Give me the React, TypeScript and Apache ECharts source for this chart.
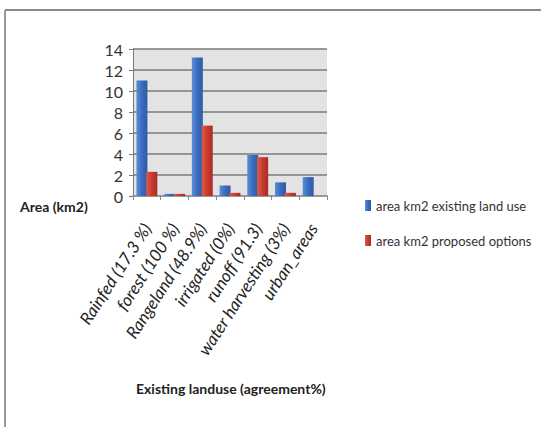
import React, { useEffect, useRef } from "react";
import * as echarts from "echarts";

const categories = [
  "Rainfed (17.3 %)",
  "forest (100 %)",
  "Rangeland (48.9%)",
  "irrigated (0%)",
  "runoff (91.3)",
  "water harvesting (3%)",
  "urban_areas",
];
const existingLandUse = [11.0, 0.2, 13.2, 1.0, 3.9, 1.3, 1.8];
const proposedOptions = [2.3, 0.2, 6.7, 0.3, 3.7, 0.3, 0];
const seriesNames = ["area km2 existing land use", "area km2 proposed options"];
const yTicks = { min: 0, max: 14, interval: 2 };

const FONT = "Lato, 'Liberation Sans', sans-serif";

export default function App() {
  const ref = useRef<HTMLDivElement>(null);
  useEffect(() => {
    if (!ref.current) return;
    const chart = echarts.init(ref.current, null, { renderer: "svg" });
    const blue = new echarts.graphic.LinearGradient(0, 0, 1, 0, [
      { offset: 0, color: "#5b8fd6" },
      { offset: 0.5, color: "#3a6cbf" },
      { offset: 1, color: "#2d5aa3" },
    ]);
    const red = new echarts.graphic.LinearGradient(0, 0, 1, 0, [
      { offset: 0, color: "#e05a4c" },
      { offset: 0.5, color: "#c93a2e" },
      { offset: 1, color: "#a82d24" },
    ]);
    chart.setOption({
      animation: false,
      textStyle: { fontFamily: FONT },
      grid: {
        left: 133,
        right: 214,
        top: 49,
        bottom: 231,
        show: true,
        backgroundColor: "#e3e3e3",
        borderWidth: 0,
      },
      legend: {
        orient: "vertical",
        left: 360,
        top: 194,
        itemGap: 22,
        itemWidth: 6,
        itemHeight: 11,
        icon: "rect",
        textStyle: { fontFamily: FONT, fontSize: 13, color: "#333" },
        data: seriesNames,
      },
      xAxis: {
        type: "category",
        data: categories,
        axisLine: { show: true, lineStyle: { color: "#999", width: 2 } },
        axisTick: { show: true, lineStyle: { color: "#888" }, length: 4 },
        axisLabel: {
          rotate: 57,
          interval: 0,
          fontStyle: "italic",
          fontSize: 17,
          color: "#222",
          fontFamily: FONT,
          margin: 29,
        },
      },
      yAxis: {
        type: "value",
        min: yTicks.min,
        max: yTicks.max,
        interval: yTicks.interval,
        axisLine: { show: true, lineStyle: { color: "#777", width: 1 } },
        axisTick: { show: true, lineStyle: { color: "#777" }, length: 4 },
        axisLabel: { fontSize: 16, color: "#333", fontFamily: FONT, margin: 10 },
        splitLine: { show: true, lineStyle: { color: "#7a7a7a", width: 1.5 } },
      },
      series: [
        {
          name: seriesNames[0],
          type: "bar",
          data: existingLandUse,
          barWidth: 11,
          barGap: "-10%",
          itemStyle: { color: blue },
        },
        {
          name: seriesNames[1],
          type: "bar",
          data: proposedOptions,
          barWidth: 11,
          itemStyle: { color: red },
        },
      ],
      graphic: [
        {
          type: "line",
          shape: { x1: 5, y1: 10, x2: 541, y2: 10 },
          style: { stroke: "#888", lineWidth: 2 },
        },
        {
          type: "line",
          shape: { x1: 5, y1: 10, x2: 5, y2: 427 },
          style: { stroke: "#999", lineWidth: 2 },
        },
        {
          type: "text",
          left: 20,
          top: 199,
          style: {
            text: "Area (km2)",
            font: `bold 14px ${FONT}`,
            fill: "#222",
          },
        },
        {
          type: "text",
          left: 136,
          top: 381,
          style: {
            text: "Existing landuse (agreement%)",
            font: `bold 14px ${FONT}`,
            fill: "#222",
          },
        },
      ],
    });
    return () => chart.dispose();
  }, []);
  return <div ref={ref} style={{ width: 541, height: 427, position: "absolute", left: 0, top: 0 }} />;
}
